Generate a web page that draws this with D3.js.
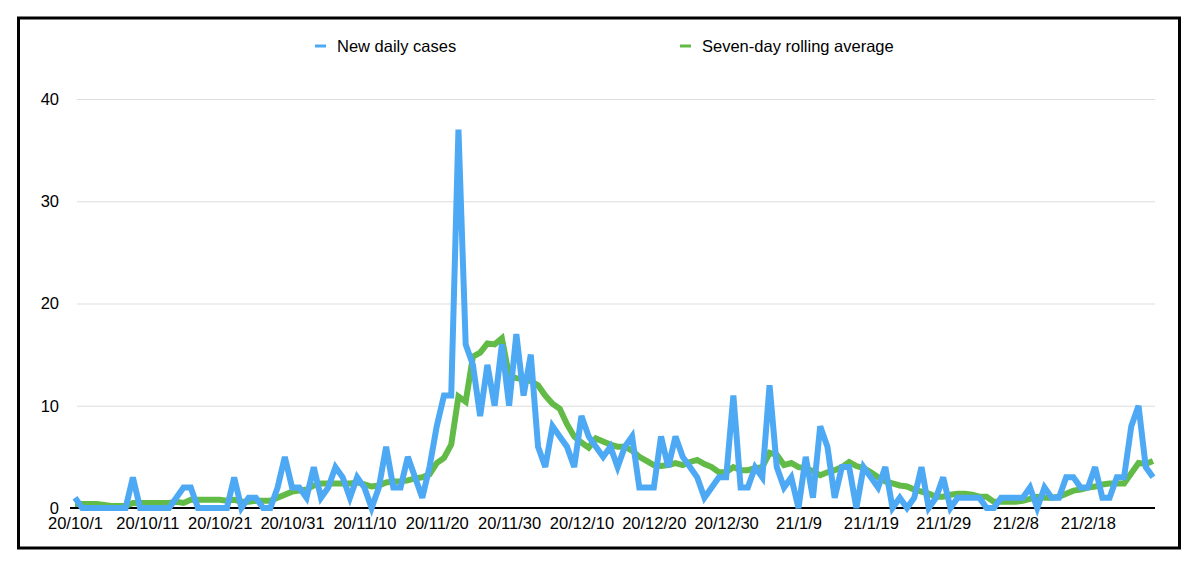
<!DOCTYPE html>
<html>
<head>
<meta charset="utf-8">
<script src="https://cdn.jsdelivr.net/npm/d3@7"></script>
<style>
  body { margin: 0; background: #fff; }
  svg { display: block; font-family: "Liberation Sans", Arial, sans-serif; }
</style>
</head>
<body>
<svg id="chart" width="1200" height="568"></svg>
<script>
// daily counts, 2020-10-01 .. 2021-02-27
const newCases = [
  1, 0, 0, 0, 0, 0, 0, 0, 3, 0,
  0, 0, 0, 0, 1, 2, 2, 0, 0, 0,
  0, 0, 3, 0, 1, 1, 0, 0, 2, 5,
  2, 2, 1, 4, 1, 2, 4, 3, 1, 3,
  2, 0, 2, 6, 2, 2, 5, 3, 1, 4,
  8, 11, 11, 37, 16, 14, 9, 14, 10, 16,
  10, 17, 11, 15, 6, 4, 8, 7, 6, 4,
  9, 7, 6, 5, 6, 4, 6, 7, 2, 2,
  2, 7, 4, 7, 5, 4, 3, 1, 2, 3,
  3, 11, 2, 2, 4, 3, 12, 4, 2, 3,
  0, 5, 1, 8, 6, 1, 4, 4, 0, 4,
  3, 2, 4, 0, 1, 0, 1, 4, 0, 1,
  3, 0, 1, 1, 1, 1, 0, 0, 1, 1,
  1, 1, 2, 0, 2, 1, 1, 3, 3, 2,
  2, 4, 1, 1, 3, 3, 8, 10, 4, 3
];

const rollingAvg = [
  0.4, 0.4, 0.4, 0.4, 0.3, 0.2, 0.2, 0.2, 0.5, 0.5,
  0.5, 0.5, 0.5, 0.5, 0.6, 0.5, 0.8, 0.8, 0.8, 0.8,
  0.8, 0.7, 0.8, 0.6, 0.6, 0.7, 0.7, 0.7, 1.0, 1.3,
  1.6, 1.7, 1.8, 2.2, 2.4, 2.4, 2.4, 2.4, 2.4, 2.5,
  2.3, 2.1, 2.2, 2.5, 2.6, 2.6, 2.7, 2.9, 3.0, 3.3,
  4.4, 4.9, 6.2, 10.9, 10.4, 14.8, 15.2, 16.1, 16.0, 16.6,
  12.9, 12.7, 12.6, 12.4, 12.0, 11.0, 10.2, 9.7, 8.2, 7.0,
  6.4, 5.9, 6.8, 6.5, 6.2, 6.0, 6.0, 5.6, 5.0, 4.6,
  4.2, 4.1, 4.2, 4.4, 4.2, 4.5, 4.7, 4.3, 4.0, 3.5,
  3.5, 4.0, 3.7, 3.7, 3.9, 4.0, 5.4, 5.2, 4.2, 4.4,
  4.0, 3.9, 3.6, 3.2, 3.5, 3.7, 4.0, 4.5, 4.1, 3.9,
  3.5, 3.0, 2.6, 2.4, 2.2, 2.1, 1.8, 1.6, 1.4, 1.1,
  1.1, 1.3, 1.4, 1.4, 1.3, 1.1, 1.1, 0.6, 0.6, 0.6,
  0.6, 0.7, 0.9, 1.1, 1.0, 1.0, 1.1, 1.4, 1.7, 1.8,
  2.0, 2.1, 2.3, 2.4, 2.4, 2.4, 3.4, 4.4, 4.3, 4.6
];

const startDate = new Date(2020, 9, 1);
const days = d3.timeDay.range(startDate, d3.timeDay.offset(startDate, newCases.length));

const tickLabels = ["20/10/1", "20/10/11", "20/10/21", "20/10/31", "20/11/10", "20/11/20",
  "20/11/30", "20/12/10", "20/12/20", "20/12/30", "21/1/9", "21/1/19", "21/1/29", "21/2/8", "21/2/18"];
const yTicks = [0, 10, 20, 30, 40];

const series = [
  { name: "Seven-day rolling average", values: rollingAvg, color: "#62bb47" },
  { name: "New daily cases", values: newCases, color: "#4ea9f5" }
];

const svg = d3.select("#chart");

// outer frame
svg.append("rect")
  .attr("x", 18.5).attr("y", 18)
  .attr("width", 1161).attr("height", 530)
  .attr("fill", "none")
  .attr("stroke", "#000")
  .attr("stroke-width", 3);

const plotLeft = 77, plotRight = 1155, plotTop = 99, plotBottom = 508;

const parseTick = d3.timeParse("%y/%m/%d");
const fmtTick = d3.timeFormat("%y/%-m/%-d");

const x = d3.scaleTime()
  .domain([days[0], days[days.length - 1]])
  .range([75, 1153]);

const y = d3.scaleLinear()
  .domain([0, 40])
  .range([plotBottom, plotTop]);

// y grid + labels
const yAxis = svg.append("g")
  .attr("transform", `translate(${plotLeft},0)`)
  .call(d3.axisLeft(y).tickValues(yTicks).tickSize(-(plotRight - plotLeft)).tickPadding(18));
yAxis.select(".domain").remove();
yAxis.selectAll(".tick line")
  .attr("stroke", "#dddddd")
  .attr("stroke-width", 1)
  .filter(d => d === 0).remove();
yAxis.selectAll(".tick text")
  .attr("fill", "#000")
  .style("font-size", "16.5px")
  .style("font-family", "Liberation Sans, Arial, sans-serif");

// baseline
svg.append("line")
  .attr("x1", 70).attr("x2", plotRight)
  .attr("y1", y(0)).attr("y2", y(0))
  .attr("stroke", "#000")
  .attr("stroke-width", 2);

// x labels
const xAxis = svg.append("g")
  .attr("transform", `translate(0,${plotBottom})`)
  .call(d3.axisBottom(x)
    .tickValues(tickLabels.map(parseTick))
    .tickFormat(fmtTick)
    .tickSize(0)
    .tickPadding(9));
xAxis.select(".domain").remove();
xAxis.selectAll(".tick text")
  .attr("fill", "#000")
  .style("font-size", "16.5px")
  .style("font-family", "Liberation Sans, Arial, sans-serif");

const line = d3.line()
  .x((d, i) => x(days[i]))
  .y(d => y(d));

svg.selectAll("path.series")
  .data(series)
  .enter()
  .append("path")
  .attr("class", "series")
  .attr("d", d => line(d.values))
  .attr("fill", "none")
  .attr("stroke", d => d.color)
  .attr("stroke-width", 6)
  .attr("stroke-linejoin", "miter")
  .attr("stroke-miterlimit", 3);

// legend
const legendItems = [
  { name: "New daily cases", color: "#4ea9f5", x: 315 },
  { name: "Seven-day rolling average", color: "#62bb47", x: 680 }
];

const legend = svg.selectAll("g.legend")
  .data(legendItems)
  .enter()
  .append("g")
  .attr("class", "legend")
  .attr("transform", d => `translate(${d.x},46)`);

legend.append("line")
  .attr("x1", 0).attr("x2", 11)
  .attr("stroke", d => d.color)
  .attr("stroke-width", 3);

legend.append("text")
  .attr("x", 22)
  .attr("dy", "0.35em")
  .text(d => d.name)
  .style("font-size", "16.5px")
  .attr("fill", "#000");
</script>
</body>
</html>
